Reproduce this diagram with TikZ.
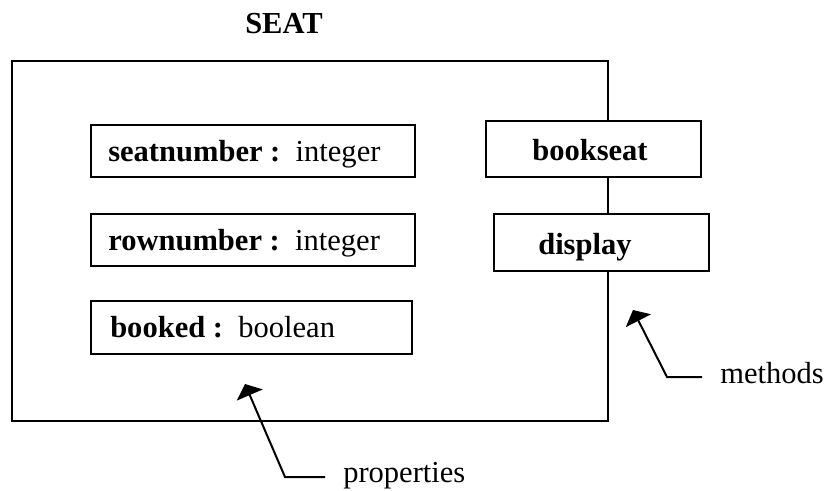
\documentclass[tikz,border=0pt]{standalone}
\usepackage{fontspec}
\setmainfont{Liberation Serif}
\usetikzlibrary{fit,arrows.meta}
\begin{document}
\begin{tikzpicture}[x=0.75pt,y=-0.75pt,
  frame/.style={draw, line width=1.5pt, inner sep=0pt},
  field/.style={frame, fill=white},
  lbl/.style={anchor=base west, inner sep=0pt, font=\fontsize{22.9pt}{27pt}\selectfont},
  pointer/.style={line width=1.5pt, line join=miter, -{Triangle[length=9pt,width=21pt]}}
]
\useasboundingbox (0,0) rectangle (828,490);

% class title
\node[lbl] (title) at (245,33) {\bfseries SEAT};

% class outline; its right edge carries the methods
\node[frame, fit={(12,61) (608,421)}] (cls) {};

% properties
\node[field, fit={(91,125) (415,177)}] (sn) {};
\node[field, fit={(91,214) (415,266)}] (rn) {};
\node[field, fit={(91,301) (412,354)}] (bk) {};
\node[lbl] (snt) at (108,161) {\textbf{seatnumber :}\ \ integer};
\node[lbl] (rnt) at (108,250) {\textbf{rownumber :}\ \ integer};
\node[lbl] (bkt) at (110,337) {\textbf{booked :}\ \ boolean};

% methods
\node[field, fit={(486,121) (701,177)}] (bs) {};
\node[field, fit={(494,214) (709,271)}] (ds) {};
\node[lbl] (bst) at (532,160) {\bfseries bookseat};
\node[lbl] (dst) at (538,254) {\bfseries display};

% callouts
\node[lbl] (mlab) at (720,383) {methods};
\coordinate (ms) at (702,377);
\coordinate (mk) at (667,377);
\coordinate (mt) at (633,310);
\draw[pointer] (ms) -- (mk) -- (mt);

\node[lbl] (plab) at (343,482) {properties};
\coordinate (ps) at (325,477);
\coordinate (pk) at (285,477);
\coordinate (pt) at (245,384);
\draw[pointer] (ps) -- (pk) -- (pt);
\end{tikzpicture}
\end{document}
